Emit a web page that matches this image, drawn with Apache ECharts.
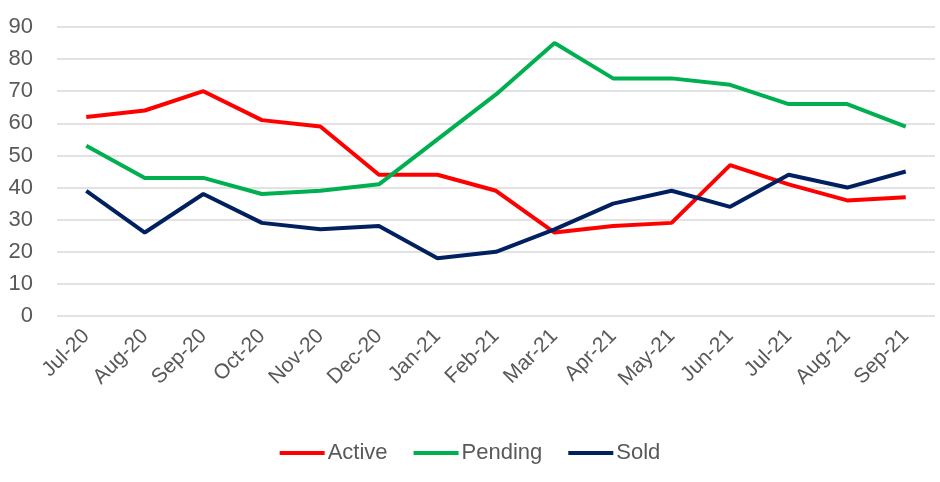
<!DOCTYPE html>
<html>
<head>
<meta charset="utf-8">
<script src="https://cdn.jsdelivr.net/npm/echarts@6/dist/echarts.min.js"></script>
<style>
html,body{margin:0;padding:0;background:#fff;}
#chart{width:940px;height:482px;}
</style>
</head>
<body>
<div id="chart"></div>
<script>
var categories = ['Jul-20','Aug-20','Sep-20','Oct-20','Nov-20','Dec-20','Jan-21','Feb-21','Mar-21','Apr-21','May-21','Jun-21','Jul-21','Aug-21','Sep-21'];
var active  = [62, 64, 70, 61, 59, 44, 44, 39, 26, 28, 29, 47, 41, 36, 37];
var pending = [53, 43, 43, 38, 39, 41, 55, 69, 85, 74, 74, 72, 66, 66, 59];
var sold    = [39, 26, 38, 29, 27, 28, 18, 20, 27, 35, 39, 34, 44, 40, 45];

var FONT = "'Liberation Sans Narrow', 'Liberation Sans', sans-serif";
var chart = echarts.init(document.getElementById('chart'), null, {renderer: 'canvas'});
function line(name, data, color) {
  return {
    name: name, type: 'line', data: data, symbol: 'none',
    lineStyle: {color: color, width: 4},
    itemStyle: {color: color},
    animation: false
  };
}
chart.setOption({
  animation: false,
  grid: {left: 57, right: 5, top: 27, bottom: 166, containLabel: false},
  legend: {
    bottom: 13, left: 'center',
    icon: 'rect', itemWidth: 45, itemHeight: 4, itemGap: 26,
    textStyle: {fontFamily: FONT, fontSize: 22, color: '#595959', padding: [0,0,0,-2]},
    data: ['Active','Pending','Sold']
  },
  xAxis: {
    type: 'category', data: categories, boundaryGap: true,
    axisLine: {show: false}, axisTick: {show: false},
    axisLabel: {rotate: 45, fontFamily: FONT, fontSize: 21, color: '#595959', margin: 17, interval: 0}
  },
  yAxis: {
    type: 'value', min: 0, max: 90, interval: 10,
    axisLine: {show: false}, axisTick: {show: false},
    axisLabel: {fontFamily: FONT, fontSize: 22, color: '#595959', margin: 24},
    splitLine: {lineStyle: {color: '#d9d9d9', width: 1.5}}
  },
  series: [
    line('Active', active, '#FF0000'),
    line('Pending', pending, '#00B050'),
    line('Sold', sold, '#002060')
  ]
});
</script>
</body>
</html>
